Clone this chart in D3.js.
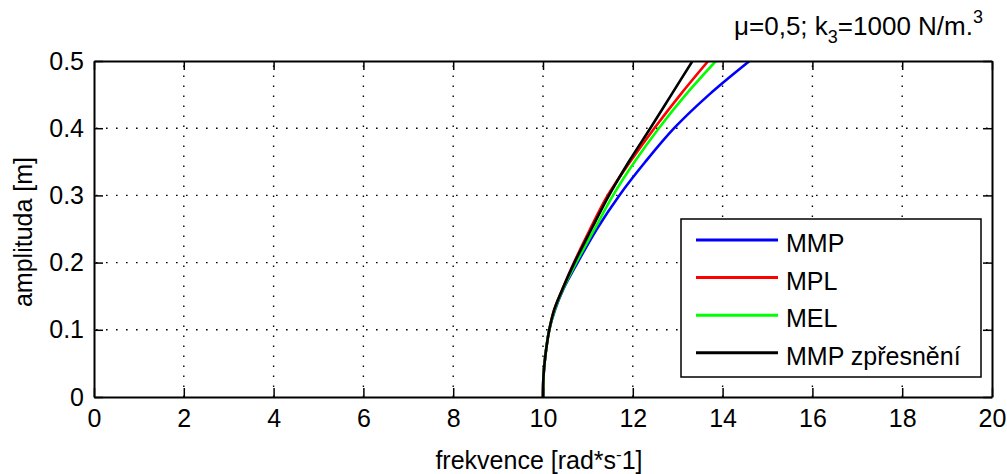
<!DOCTYPE html>
<html>
<head>
<meta charset="utf-8">
<script src="https://cdn.jsdelivr.net/npm/d3@7"></script>
<style>
  html, body { margin: 0; padding: 0; background: #fff; }
  svg { display: block; }
  text { font-family: "Liberation Sans", Arial, sans-serif; fill: #000; }
</style>
</head>
<body>
<svg id="chart" width="1007" height="474"></svg>
<script>
// Backbone curves: frequency [rad/s] reached at each amplitude [m]
const amplitude = [0, 0.03, 0.06, 0.1, 0.13, 0.16, 0.2, 0.25, 0.3, 0.35, 0.4, 0.45, 0.5];
const freqMMP  = [10.00, 10.01, 10.05, 10.14, 10.27, 10.45, 10.77, 11.20, 11.70, 12.28, 12.92, 13.70, 14.60];
const freqMPL  = [10.00, 10.01, 10.05, 10.14, 10.25, 10.43, 10.69, 11.05, 11.44, 11.94, 12.48, 13.06, 13.68];
const freqMEL  = [10.00, 10.01, 10.05, 10.14, 10.26, 10.44, 10.74, 11.15, 11.56, 12.04, 12.58, 13.18, 13.85];
const freqMMPz = [10.00, 10.01, 10.05, 10.14, 10.25, 10.43, 10.70, 11.08, 11.47, 11.91, 12.39, 12.86, 13.33];

const seriesNames  = ["MMP", "MPL", "MEL", "MMP zpřesnění"];
const seriesColors = ["#0000ff", "#ff0000", "#00ff00", "#000000"];
const seriesValues = [freqMMP, freqMPL, freqMEL, freqMMPz];

const xTicks = [0, 2, 4, 6, 8, 10, 12, 14, 16, 18, 20];
const yTicks = [0, 0.1, 0.2, 0.3, 0.4, 0.5];

const svg = d3.select("#chart");
const plotL = 94, plotR = 992, plotT = 61, plotB = 397;

const x = d3.scaleLinear().domain([0, 20]).range([plotL, plotR]);
const y = d3.scaleLinear().domain([0, 0.5]).range([plotB, plotT]);

// dotted grid
const grid = svg.append("g")
  .attr("stroke", "#000")
  .attr("stroke-width", 1.4)
  .attr("stroke-dasharray", "1.6,8.4");
grid.selectAll("line.v").data(xTicks.slice(1, -1)).join("line")
  .attr("x1", d => x(d)).attr("x2", d => x(d))
  .attr("y1", plotB).attr("y2", plotT);
grid.selectAll("line.h").data(yTicks.slice(1, -1)).join("line")
  .attr("x1", plotL).attr("x2", plotR)
  .attr("y1", d => y(d)).attr("y2", d => y(d))
  .attr("stroke-dashoffset", -12);

// curves, clipped to the plot area
svg.append("clipPath").attr("id", "plotclip")
  .append("rect").attr("x", plotL).attr("y", plotT)
  .attr("width", plotR - plotL).attr("height", plotB - plotT);

const line = d3.line()
  .x(d => x(d[0]))
  .y(d => y(d[1]))
  .curve(d3.curveCatmullRom);

const curves = svg.append("g").attr("clip-path", "url(#plotclip)");
seriesValues.forEach((vals, i) => {
  curves.append("path")
    .datum(vals.map((f, k) => [f, amplitude[k]]))
    .attr("fill", "none")
    .attr("stroke", seriesColors[i])
    .attr("stroke-width", 2.6)
    .attr("d", line);
});

// axes on all four sides, ticks pointing inward
const fmtY = d => d === 0 ? "0" : d3.format(".1f")(d);
const axisStyle = g => {
  g.selectAll("path.domain").attr("stroke", "#000").attr("stroke-width", 2);
  g.selectAll(".tick line").attr("stroke", "#000").attr("stroke-width", 1.5);
  g.selectAll("text").attr("font-size", 25).attr("font-family", "Liberation Sans, Arial, sans-serif");
};

svg.append("g").attr("transform", `translate(0,${plotB})`)
  .call(d3.axisBottom(x).tickValues(xTicks).tickFormat(d3.format("d"))
    .tickSizeInner(-9).tickSizeOuter(0).tickPadding(12))
  .call(axisStyle);
svg.append("g").attr("transform", `translate(0,${plotT})`)
  .call(d3.axisTop(x).tickValues(xTicks).tickFormat("").tickSizeInner(-9).tickSizeOuter(0))
  .call(axisStyle);
svg.append("g").attr("transform", `translate(${plotL},0)`)
  .call(d3.axisLeft(y).tickValues(yTicks).tickFormat(fmtY)
    .tickSizeInner(-9).tickSizeOuter(0).tickPadding(10))
  .call(axisStyle);
svg.append("g").attr("transform", `translate(${plotR},0)`)
  .call(d3.axisRight(y).tickValues(yTicks).tickFormat("").tickSizeInner(-9).tickSizeOuter(0))
  .call(axisStyle);

// axis labels
svg.append("text")
  .attr("transform", "translate(32,232) rotate(-90)")
  .attr("text-anchor", "middle")
  .attr("font-size", 25)
  .text("amplituda [m]");

const xl = svg.append("text")
  .attr("x", 539).attr("y", 469)
  .attr("text-anchor", "middle")
  .attr("font-size", 25);
xl.append("tspan").text("frekvence [rad*s");
xl.append("tspan").attr("font-size", 17).attr("dy", -9).text("-");
xl.append("tspan").attr("dy", 9).text("1]");

// title
const t = svg.append("text")
  .attr("x", 983).attr("y", 35)
  .attr("text-anchor", "end")
  .attr("font-size", 26);
t.append("tspan").text("μ=0,5; k");
t.append("tspan").attr("font-size", 18).attr("dy", 8).text("3");
t.append("tspan").attr("dy", -8).text("=1000 N/m.");
t.append("tspan").attr("font-size", 18).attr("dy", -12).text("3");

// legend
const lg = svg.append("g");
lg.append("rect")
  .attr("x", 681).attr("y", 219).attr("width", 300).attr("height", 158)
  .attr("fill", "#fff").attr("stroke", "#000").attr("stroke-width", 1.5);
seriesNames.forEach((name, i) => {
  const ly = 240 + i * 37.6;
  lg.append("line")
    .attr("x1", 696).attr("x2", 778).attr("y1", ly).attr("y2", ly)
    .attr("stroke", seriesColors[i]).attr("stroke-width", 3);
  lg.append("text")
    .attr("x", 786).attr("y", ly + 12)
    .attr("font-size", 25)
    .text(name);
});
</script>
</body>
</html>
